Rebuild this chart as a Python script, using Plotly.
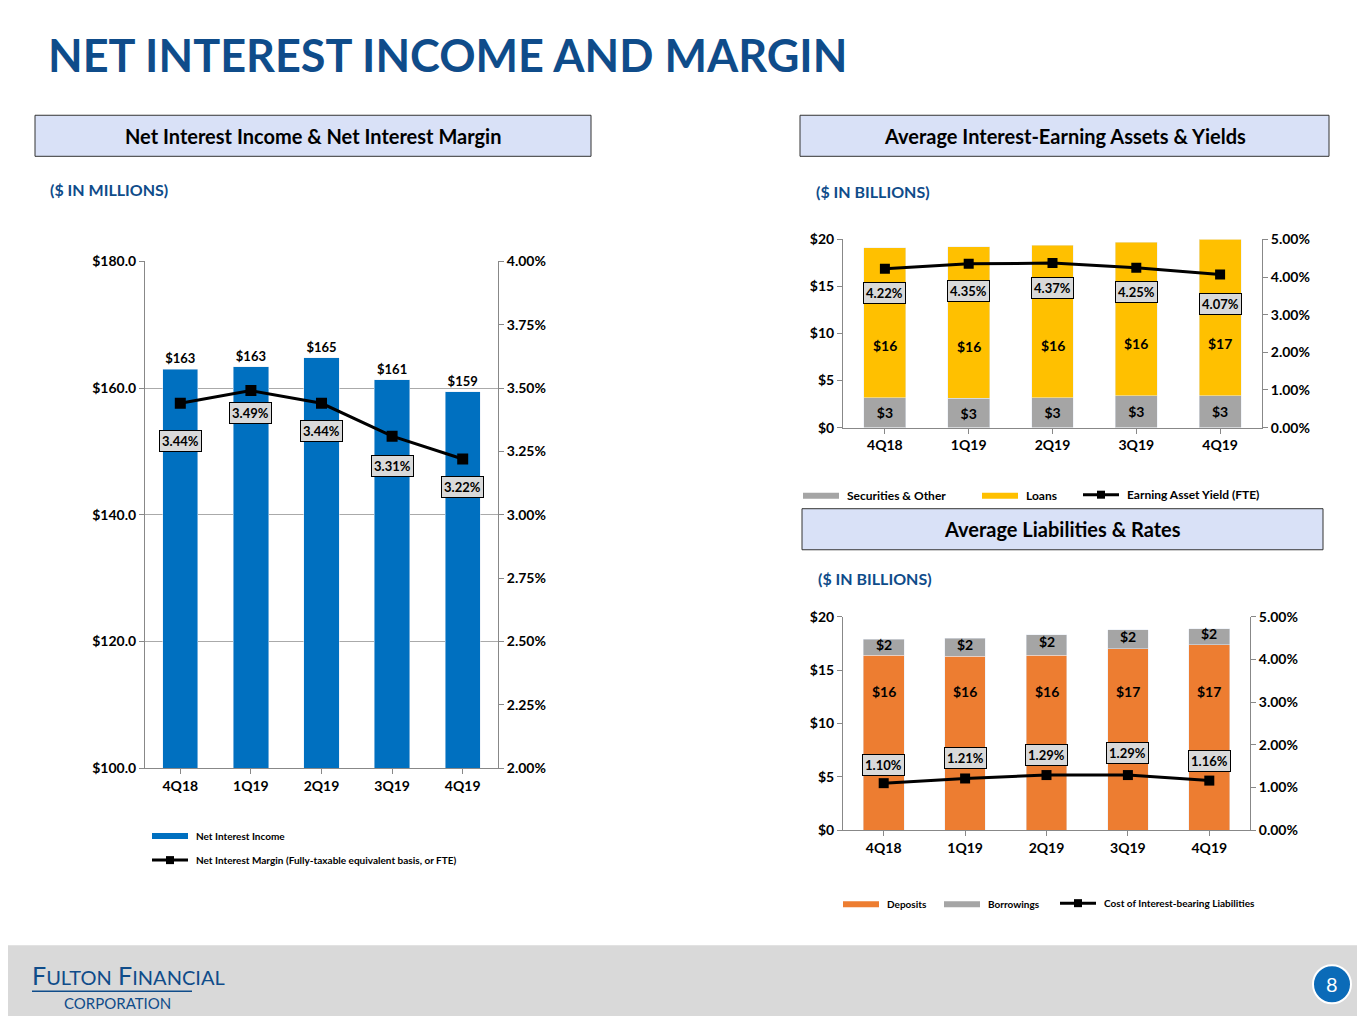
import plotly.graph_objects as go

quarters = ["4Q18", "1Q19", "2Q19", "3Q19", "4Q19"]
nii = [163.0, 163.4, 164.8, 161.3, 159.4]
nim = [3.44, 3.49, 3.44, 3.31, 3.22]
securities = [3.2, 3.1, 3.2, 3.4, 3.4]
loans = [15.9, 16.1, 16.2, 16.3, 16.6]
asset_yield = [4.22, 4.35, 4.37, 4.25, 4.07]
deposits = [16.4, 16.3, 16.4, 17.0, 17.4]
borrowings = [1.5, 1.7, 1.9, 1.8, 1.5]
liab_cost = [1.10, 1.21, 1.29, 1.29, 1.16]

W, H = 1349, 1008
F = "Lato"
NAVY = "#0F4C8A"
def px(x): return (x - 8) / W
def py(y):
    yy = (y - 10) / 0.982
    return 1 - (yy - 8) / H

fig = go.Figure()
bf = dict(size=13, color="black", family=F, weight="bold")
fig.add_bar(x=quarters, y=nii, marker_color="#0070C0", width=0.5, xaxis="x", yaxis="y",
            text=[f"${v:.0f}" for v in nii], textposition="outside",
            textfont=bf, cliponaxis=False)
fig.add_scatter(x=quarters, y=nim, mode="lines+markers", line=dict(color="black", width=3),
                marker=dict(symbol="square", size=11, color="black"), xaxis="x", yaxis="y2")
fig.add_bar(x=quarters, y=securities, marker_color="#A5A5A5", width=0.5, xaxis="x3", yaxis="y3",
            text=[f"${v:.0f}" for v in securities], textposition="inside", insidetextanchor="middle",
            textfont=dict(size=14, color="black", family=F, weight="bold"))
fig.add_bar(x=quarters, y=loans, marker_color="#FFC000", width=0.5, xaxis="x3", yaxis="y3")
fig.add_scatter(x=quarters, y=asset_yield, mode="lines+markers", line=dict(color="black", width=3),
                marker=dict(symbol="square", size=10, color="black"), xaxis="x3", yaxis="y4")
fig.add_bar(x=quarters, y=deposits, marker_color="#ED7D31", width=0.5, xaxis="x5", yaxis="y5")
fig.add_bar(x=quarters, y=borrowings, marker_color="#A5A5A5", width=0.5, xaxis="x5", yaxis="y5")
fig.add_scatter(x=quarters, y=liab_cost, mode="lines+markers", line=dict(color="black", width=3),
                marker=dict(symbol="square", size=10, color="black"), xaxis="x5", yaxis="y6")

tf = dict(size=14, color="black", family=F, weight="bold")
ax = dict(showline=True, linecolor="#888", ticks="outside", tickcolor="#888", tickfont=tf, fixedrange=True)
fig.update_layout(
    width=W, height=H, margin=dict(l=0, r=0, t=0, b=0), showlegend=False, barmode="stack",
    paper_bgcolor="white", plot_bgcolor="white", font=dict(family=F),
    xaxis=dict(domain=[px(145), px(498)], anchor="y", **ax),
    yaxis=dict(domain=[py(768), py(262)], range=[100, 180], dtick=20, tickformat="$.1f",
               showgrid=True, gridcolor="#aaa", **ax),
    yaxis2=dict(overlaying="y", side="right", range=[2, 4], dtick=0.25, ticksuffix="%",
                tickformat=".2f", anchor="x", showgrid=False, **ax),
    xaxis3=dict(domain=[px(843), px(1262)], anchor="y3", **ax),
    yaxis3=dict(domain=[py(428), py(240)], range=[0, 20], dtick=5, tickprefix="$", anchor="x3",
                showgrid=False, **ax),
    yaxis4=dict(overlaying="y3", side="right", range=[0, 5], dtick=1, ticksuffix="%",
                tickformat=".2f", anchor="x3", showgrid=False, **ax),
    xaxis5=dict(domain=[px(843), px(1250)], anchor="y5", **ax),
    yaxis5=dict(domain=[py(830), py(617)], range=[0, 20], dtick=5, tickprefix="$", anchor="x5",
                showgrid=False, **ax),
    yaxis6=dict(overlaying="y5", side="right", range=[0, 5], dtick=1, ticksuffix="%",
                tickformat=".2f", anchor="x5", showgrid=False, **ax),
)

ann = []
shapes = []
def box_label(x, y, text, xr, yr, yshift):
    ann.append(dict(x=x, y=y, xref=xr, yref=yr, text=f"<b>{text}</b>", showarrow=False, yshift=yshift,
                    bgcolor="#D9D9D9", bordercolor="black", borderwidth=1, borderpad=2,
                    font=dict(size=13, color="black", family=F)))
nim_shift = [-38, -22, -28, -30, -28]
for i, q in enumerate(quarters):
    box_label(q, nim[i], f"{nim[i]:.2f}%", "x", "y2", nim_shift[i])
    box_label(q, asset_yield[i], f"{asset_yield[i]:.2f}%", "x3", "y4", [-24, -27, -25, -24, -30][i])
    box_label(q, liab_cost[i], f"{liab_cost[i]:.2f}%", "x5", "y6", [18, 20, 20, 22, 20][i])
    ann.append(dict(x=q, y=securities[i] + 5.5, xref="x3", yref="y3", text=f"<b>${loans[i]:.0f}</b>",
                    showarrow=False, font=dict(size=14, color="black", family=F)))
    ann.append(dict(x=q, y=13, xref="x5", yref="y5", text=f"<b>${deposits[i]:.0f}</b>",
                    showarrow=False, font=dict(size=14, color="black", family=F)))
    ann.append(dict(x=q, y=deposits[i] + borrowings[i] / 2 + 0.3, xref="x5", yref="y5",
                    text=f"<b>${borrowings[i]:.0f}</b>", showarrow=False,
                    font=dict(size=14, color="black", family=F)))

def ptext(x, y, text, size=14, color="black", xanchor="left", bold=True):
    ann.append(dict(x=px(x), y=py(y), xref="paper", yref="paper", text=f"<b>{text}</b>" if bold else text,
                    showarrow=False, xanchor=xanchor, yanchor="middle",
                    font=dict(size=size, color=color, family=F)))

ptext(46, 56, "NET INTEREST INCOME AND MARGIN", 45, NAVY)
for (x0, y0, x1, y1, t) in [(35, 116, 591, 157, "Net Interest Income & Net Interest Margin"),
                            (800, 116, 1329, 157, "Average Interest-Earning Assets & Yields"),
                            (802, 509, 1323, 550, "Average Liabilities & Rates")]:
    shapes.append(dict(type="rect", xref="paper", yref="paper", x0=px(x0), x1=px(x1), y0=py(y1), y1=py(y0),
                       fillcolor="#D9E1F7", line=dict(color="#333", width=1)))
    ptext((x0 + x1) / 2, (y0 + y1) / 2, t, 20, "black", "center")
ptext(48, 190, "($ IN MILLIONS)", 16, NAVY)
ptext(814, 192, "($ IN BILLIONS)", 16, NAVY)
ptext(816, 579, "($ IN BILLIONS)", 16, NAVY)

def leg_rect(x, y, color, label, size=11):
    shapes.append(dict(type="rect", xref="paper", yref="paper", x0=px(x), x1=px(x + 36),
                       y0=py(y + 3), y1=py(y - 3), fillcolor=color, line=dict(width=0)))
    ptext(x + 42, y, label, size, "black")
def leg_line(x, y, label, size=11):
    shapes.append(dict(type="line", xref="paper", yref="paper", x0=px(x), x1=px(x + 36),
                       y0=py(y), y1=py(y), line=dict(color="black", width=3)))
    shapes.append(dict(type="rect", xref="paper", yref="paper", x0=px(x + 14), x1=px(x + 22),
                       y0=py(y + 4), y1=py(y - 4), fillcolor="black", line=dict(width=0)))
    ptext(x + 42, y, label, size, "black")
leg_rect(152, 836, "#0070C0", "Net Interest Income", 10)
leg_line(152, 860, "Net Interest Margin (Fully-taxable equivalent basis, or FTE)", 10)
leg_rect(803, 496, "#A5A5A5", "Securities & Other", 12)
leg_rect(982, 496, "#FFC000", "Loans", 12)
leg_line(1083, 495, "Earning Asset Yield (FTE)", 12)
leg_rect(843, 904, "#ED7D31", "Deposits", 10)
leg_rect(944, 904, "#A5A5A5", "Borrowings", 10)
leg_line(1060, 903, "Cost of Interest-bearing Liabilities", 10)

shapes.append(dict(type="rect", xref="paper", yref="paper", x0=-0.01, x1=1.01, y0=-0.05, y1=py(945),
                   fillcolor="#D9D9D9", line=dict(width=0), layer="below"))
ptext(30, 975, "F<span style='font-size:20px'>ULTON</span> F<span style='font-size:20px'>INANCIAL</span>",
      25, NAVY, bold=False)
shapes.append(dict(type="line", xref="paper", yref="paper", x0=px(32), x1=px(192), y0=py(991), y1=py(991),
                   line=dict(color=NAVY, width=1.5)))
ptext(62, 1003, "CORPORATION", 15, NAVY, bold=False)
shapes.append(dict(type="circle", xref="paper", yref="paper", x0=px(1313), x1=px(1351), y0=py(1003),
                   y1=py(965), fillcolor="#0B6BB8", line=dict(color="white", width=2)))
ptext(1332, 984, "8", 20, "white", "center", bold=False)

fig.update_layout(annotations=ann, shapes=shapes)
fig.write_html("out.html")
